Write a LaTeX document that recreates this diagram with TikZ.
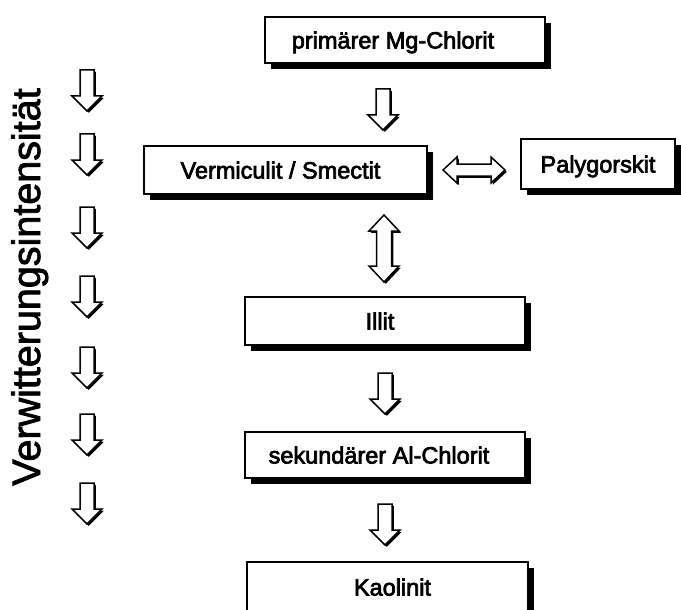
\documentclass[tikz,border=0pt]{standalone}
\usepackage{fontspec}
\setmainfont{Liberation Sans}
\newfontfamily\wfont[FakeBold=3]{Liberation Sans}
\newfontfamily\vfont[FakeBold=2]{Liberation Sans}
\usetikzlibrary{shadows}
\tikzset{
  boxshadow/.style={drop shadow={shadow xshift=6pt, shadow yshift=-6pt, fill=black, opacity=1}},
  mbox/.style={draw, line width=1.3pt, fill=white, inner sep=0pt, boxshadow,
    font=\wfont\fontsize{23.5}{28}\selectfont, text height=17pt, text depth=0pt},
  arr/.style={draw, line width=1.5pt, fill=white, line join=miter,
    drop shadow={shadow xshift=1.8pt, shadow yshift=-1.8pt, fill=black, opacity=1}},
  downarrow/.pic={\path[arr] (-7,0) -- (7,0) -- (7,26) -- (15,26) -- (0,41) -- (-15,26) -- (-7,26) -- cycle;},
  vdouble/.pic={\path[arr] (0,0) -- (15,16) -- (7.5,16) -- (7.5,51) -- (15,51) -- (0,67) -- (-15,51) -- (-7.5,51) -- (-7.5,16) -- (-15,16) -- cycle;},
  hdouble/.pic={\path[arr] (0,0) -- (14,-13) -- (14,-6) -- (48,-6) -- (48,-13) -- (62,0) -- (48,13) -- (48,6) -- (14,6) -- (14,13) -- cycle;}
}
\begin{document}
\begin{tikzpicture}[x=1pt,y=-1pt]
\useasboundingbox (0,0) rectangle (681,610);
\clip (0,0) rectangle (681,610);

% boxes
\node[mbox, minimum width=280pt, minimum height=46pt] (mg) at (405,40) {\hspace*{-24pt}primärer Mg-Chlorit};
\node[mbox, minimum width=283pt, minimum height=48pt] (vs) at (285.5,170) {\hspace*{-10pt}Vermiculit / Smectit};
\node[mbox, minimum width=154pt, minimum height=50pt] (pal) at (598,164) {Palygorskit};
\node[mbox, minimum width=280pt, minimum height=48pt] (ill) at (385,321) {\hspace*{-10pt}Illit};
\node[mbox, minimum width=280pt, minimum height=46pt] (sek) at (385,455) {\hspace*{-12pt}sekundärer Al-Chlorit};
\node[mbox, minimum width=281pt, minimum height=50pt] (kao) at (387.5,587) {Kaolinit\hspace*{-10pt}};

% main arrows
\pic at (383,89) {downarrow};
\pic at (384,215) {vdouble};
\pic at (443,170) {hdouble};
\pic at (385,373) {downarrow};
\pic at (385,504) {downarrow};

% side label and arrows
\node[font=\vfont\fontsize{39.5}{46}\selectfont, rotate=90, anchor=base, inner sep=0pt] (vi) at (40,287) {Verwitterungsintensität};
\foreach \t in {70,134,207,276,347,414,483} {
  \pic at (87,\t) {downarrow};
}
\end{tikzpicture}
\end{document}
